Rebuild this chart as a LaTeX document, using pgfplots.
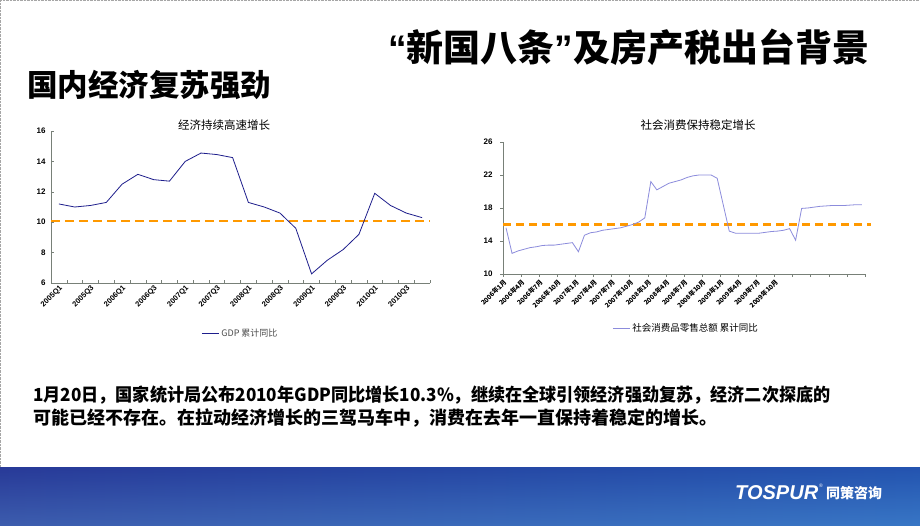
\documentclass[border=0pt]{standalone}
\usepackage{pgfplots}
\pgfplotsset{compat=1.18}
\usepackage{fontspec}
\setmainfont{Liberation Sans}
\newfontfamily\cjk{Noto Sans CJK SC}
\definecolor{gdpline}{RGB}{30,30,140}
\definecolor{retline}{RGB}{140,140,220}
\definecolor{dashor}{RGB}{255,153,0}
\definecolor{axgray}{RGB}{120,128,120}
\definecolor{bandtop}{RGB}{40,58,152}
\definecolor{bandbot}{RGB}{78,122,192}

\pgfplotstableread{
x y
0 11.2
1 11.0
2 11.1
3 11.3
4 12.5
5 13.15
6 12.8
7 12.7
8 14.0
9 14.55
10 14.45
11 14.25
12 11.3
13 11.0
14 10.6
15 9.6
16 6.6
17 7.5
18 8.2
19 9.2
20 11.9
21 11.1
22 10.6
23 10.3
}\gdptable

\pgfplotstableread{
x y
0 15.6
1 12.5
2 12.8
3 13.0
4 13.2
5 13.3
6 13.45
7 13.5
8 13.5
9 13.6
10 13.7
11 13.8
12 12.7
13 14.7
14 15.0
15 15.1
16 15.3
17 15.4
18 15.5
19 15.6
20 15.8
21 16.0
22 16.3
23 16.8
24 21.2
25 20.2
26 20.6
27 21.0
28 21.2
29 21.4
30 21.7
31 21.9
32 22.0
33 22.0
34 22.0
35 21.6
36 18.4
37 15.2
38 14.95
39 14.95
40 14.95
41 14.95
42 14.95
43 15.05
44 15.15
45 15.2
46 15.3
47 15.5
48 14.1
49 17.95
50 18.0
51 18.1
52 18.2
53 18.25
54 18.3
55 18.3
56 18.3
57 18.35
58 18.4
59 18.4
}\rettable

\begin{document}
\begin{tikzpicture}
\path[use as bounding box] (0,0) rectangle (920pt,-526pt);
\fill[white] (0,0) rectangle (920pt,-526pt);
\draw[densely dotted, gray!70] (0.5pt,0) -- (0.5pt,-467pt);
\draw[densely dotted, gray!70] (0,-0.5pt) -- (920pt,-0.5pt);
% bottom band
\shade[top color=bandtop, bottom color=bandbot] (0,-467pt) rectangle (920pt,-526pt);
\shade[left color=bandtop, right color={rgb,255:red,30;green,115;blue,205}, opacity=0.45] (0,-467pt) rectangle (920pt,-526pt);
\node[anchor=west, text=white, font=\bfseries\itshape\fontsize{20}{21}\selectfont, inner sep=0] at (735pt,-493pt) {TOSPUR};
\node[anchor=west, text=white, font=\fontsize{5}{5}\selectfont, inner sep=0] at (819pt,-486pt) {®};
\node[anchor=west, text=white, font=\cjk\bfseries\fontsize{14}{15}\selectfont, inner sep=0] at (826pt,-493pt) {同策咨询};

% titles
\node[anchor=west, font=\cjk\bfseries\fontsize{37}{40}\selectfont, inner sep=0] at (388pt,-47pt) {{\fontspec{Liberation Sans}\bfseries “}新国八条{\fontspec{Liberation Sans}\bfseries ”}及房产税出台背景};
\node[anchor=west, font=\cjk\bfseries\fontsize{30.5}{32}\selectfont, inner sep=0] at (27pt,-85pt) {国内经济复苏强劲};

% body text
\node[anchor=west, font=\cjk\bfseries\fontsize{18}{20}\selectfont, inner sep=0] at (33pt,-395pt) {\scalebox{0.951}[1]{1月20日，国家统计局公布2010年GDP同比增长10.3\%，继续在全球引领经济强劲复苏，经济二次探底的}};
\node[anchor=west, font=\cjk\bfseries\fontsize{18}{20}\selectfont, inner sep=0] at (33pt,-418pt) {可能已经不存在。在拉动经济增长的三驾马车中，消费在去年一直保持着稳定的增长。};

% chart titles
\node[font=\cjk\fontsize{11.5}{12}\selectfont, inner sep=0] at (224pt,-125pt) {经济持续高速增长};
\node[font=\cjk\fontsize{11.5}{12}\selectfont, inner sep=0] at (698pt,-125pt) {社会消费保持稳定增长};

% left chart
\begin{axis}[
  at={(51pt,-283pt)}, anchor=south west,
  scale only axis, width=379pt, height=152pt,
  xmin=-0.5, xmax=23.5, ymin=6, ymax=16,
  axis x line*=bottom, axis y line*=left,
  axis line style={draw=axgray, line width=0.6pt, -},
  tick style={draw=axgray, line width=0.5pt},
  tick align=inside, major tick length=3pt,
  ytick={6,8,...,16},
  xtick={-0.5,0.5,...,23.5}, xticklabels={},
  extra x ticks={0,2,...,22},
  extra x tick labels={2005Q1,2005Q3,2006Q1,2006Q3,2007Q1,2007Q3,2008Q1,2008Q3,2009Q1,2009Q3,2010Q1,2010Q3},
  extra x tick style={major tick length=0pt, grid=none},
  xticklabel style={rotate=45, anchor=north east, font=\bfseries\fontsize{7.5}{8}\selectfont, inner sep=1pt},
  yticklabel style={font=\bfseries\fontsize{8}{9}\selectfont, xshift=-2pt},
  /pgf/number format/assume math mode=true,
  legend style={at={(0.5,-0.33)}, anchor=center, draw=none, fill=none, font=\cjk\fontsize{9}{10}\selectfont, text=black!70},
  legend image post style={line width=0.8pt},
  clip=false,
]
\addplot[dashor, line width=2.5pt, dash pattern=on 9pt off 5pt, forget plot] coordinates {(-0.5,10.08) (23.5,10.08)};
\addplot[gdpline, line width=0.8pt, mark=none] table[x=x, y=y] {\gdptable};
\addlegendentry{GDP 累计同比}
\end{axis}

% right chart
\begin{axis}[
  at={(503pt,-274pt)}, anchor=south west,
  scale only axis, width=362pt, height=132pt,
  xmin=-0.5, xmax=59.5, ymin=10, ymax=26,
  axis x line*=bottom, axis y line*=left,
  axis line style={draw=axgray, line width=0.6pt, -},
  tick style={draw=axgray, line width=0.5pt},
  tick align=outside, major tick length=3pt,
  ytick={10,14,...,26},
  xtick={-0.5,2.5,...,59.5},
  xticklabels={2006年1月,2006年4月,2006年7月,2006年10月,2007年1月,2007年4月,2007年7月,2007年10月,2008年1月,2008年4月,2008年7月,2008年10月,2009年1月,2009年4月,2009年7月,2009年10月,,,,,},
  xticklabel style={rotate=45, anchor=north east, font=\cjk\bfseries\fontsize{6.5}{7}\selectfont, inner sep=1pt},
  yticklabel style={font=\bfseries\fontsize{8}{9}\selectfont, xshift=-4pt},
  /pgf/number format/assume math mode=true,
  legend style={at={(0.506,-0.41)}, anchor=center, draw=none, fill=none, font=\cjk\fontsize{9.5}{10}\selectfont},
  legend image post style={line width=0.8pt},
  clip=false,
]
\addplot[dashor, line width=2.5pt, dash pattern=on 8pt off 5pt, forget plot] coordinates {(-0.5,16.0) (60.5,16.0)};
\addplot[retline, line width=0.8pt, mark=none] table[x=x, y=y] {\rettable};
\addlegendentry{社会消费品零售总额 累计同比}
\end{axis}
\end{tikzpicture}
\end{document}
